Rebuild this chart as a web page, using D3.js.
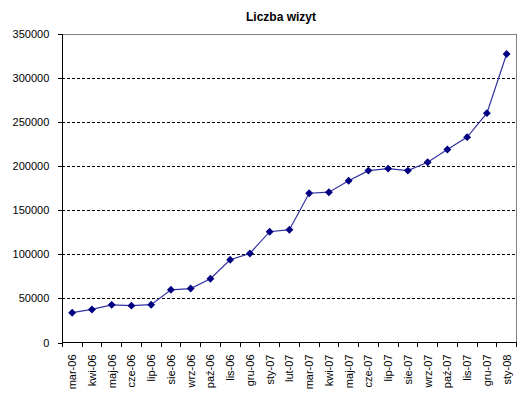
<!DOCTYPE html>
<html>
<head>
<meta charset="utf-8">
<script src="https://cdn.jsdelivr.net/npm/d3@7"></script>
<style>
  body { margin: 0; background: #fff; }
  svg { display: block; font-family: Arial, "Liberation Sans", sans-serif; }
</style>
</head>
<body>
<svg id="chart"></svg>
<script>
// data
const months = ["mar-06","kwi-06","maj-06","cze-06","lip-06","sie-06","wrz-06","paź-06","lis-06","gru-06",
  "sty-07","lut-07","mar-07","kwi-07","maj-07","cze-07","lip-07","sie-07","wrz-07","paź-07","lis-07","gru-07","sty-08"];
const visits = [33800, 37500, 42700, 41800, 42900, 59800, 61200, 72300, 93900, 101000,
  125700, 128000, 169300, 170500, 183600, 195000, 197300, 195000, 204500, 218900, 233000, 260200, 327300];
const yTicks = [0, 50000, 100000, 150000, 200000, 250000, 300000, 350000];
const title = "Liczba wizyt";

const W = 531, H = 407;
const margin = { top: 34, right: 14.5, bottom: 64.5, left: 62.3 };
const w = W - margin.left - margin.right,
  h = H - margin.top - margin.bottom;

const svg = d3.select("#chart").attr("width", W).attr("height", H);

svg.append("text")
  .attr("x", 281).attr("y", 21)
  .attr("text-anchor", "middle")
  .attr("font-size", 12).attr("font-weight", "bold")
  .text(title);

const g = svg.append("g").attr("transform", `translate(${margin.left},${margin.top})`);

const x = d3.scaleBand().domain(months).range([0, w]);
const y = d3.scaleLinear().domain([0, 350000]).range([h, 0]);

// gridlines
g.selectAll(".grid")
  .data(yTicks.filter(d => d > 0 && d < 350000))
  .enter().append("line")
  .attr("x1", 0).attr("x2", w)
  .attr("y1", d => y(d)).attr("y2", d => y(d))
  .attr("stroke", "#000").attr("stroke-width", 1)
  .attr("stroke-dasharray", "3,2")
  .attr("shape-rendering", "crispEdges");

// top/right frame
g.append("path")
  .attr("d", `M0,0H${w}V${h}`)
  .attr("fill", "none").attr("stroke", "#808080")
  .attr("shape-rendering", "crispEdges");

// y axis
const yAxis = g.append("g")
  .call(d3.axisLeft(y).tickValues(yTicks).tickSize(4).tickPadding(9).tickFormat(d3.format("d")));
yAxis.selectAll("text").attr("font-size", 11).attr("fill", "#000").style("font-family", "Arial, 'Liberation Sans', sans-serif");
yAxis.selectAll("line, path").attr("stroke", "#000").attr("shape-rendering", "crispEdges");

// x axis: ticks on band boundaries
const xAxis = g.append("g").attr("transform", `translate(0,${h})`);
xAxis.append("line").attr("x1", 0).attr("x2", w)
  .attr("stroke", "#000").attr("shape-rendering", "crispEdges");
xAxis.selectAll(".xt")
  .data(d3.range(months.length + 1))
  .enter().append("line")
  .attr("x1", i => i * x.step()).attr("x2", i => i * x.step())
  .attr("y1", 0).attr("y2", 4)
  .attr("stroke", "#000").attr("shape-rendering", "crispEdges");
xAxis.selectAll(".xl")
  .data(months)
  .enter().append("text")
  .attr("transform", d => `translate(${x(d) + x.bandwidth() / 2 + 4},${12}) rotate(-90)`)
  .attr("text-anchor", "end")
  .attr("font-size", 11)
  .text(d => d);

// series line
const line = d3.line()
  .x((d, i) => x(months[i]) + x.bandwidth() / 2)
  .y(d => y(d));

g.append("path")
  .datum(visits)
  .attr("d", line)
  .attr("fill", "none")
  .attr("stroke", "#3333a0")
  .attr("stroke-width", 1.2);

g.selectAll(".pt")
  .data(visits)
  .enter().append("path")
  .attr("d", d3.symbol(d3.symbolDiamond2, 40))
  .attr("transform", (d, i) => `translate(${x(months[i]) + x.bandwidth() / 2},${y(d)})`)
  .attr("fill", "#000080");
</script>
</body>
</html>
